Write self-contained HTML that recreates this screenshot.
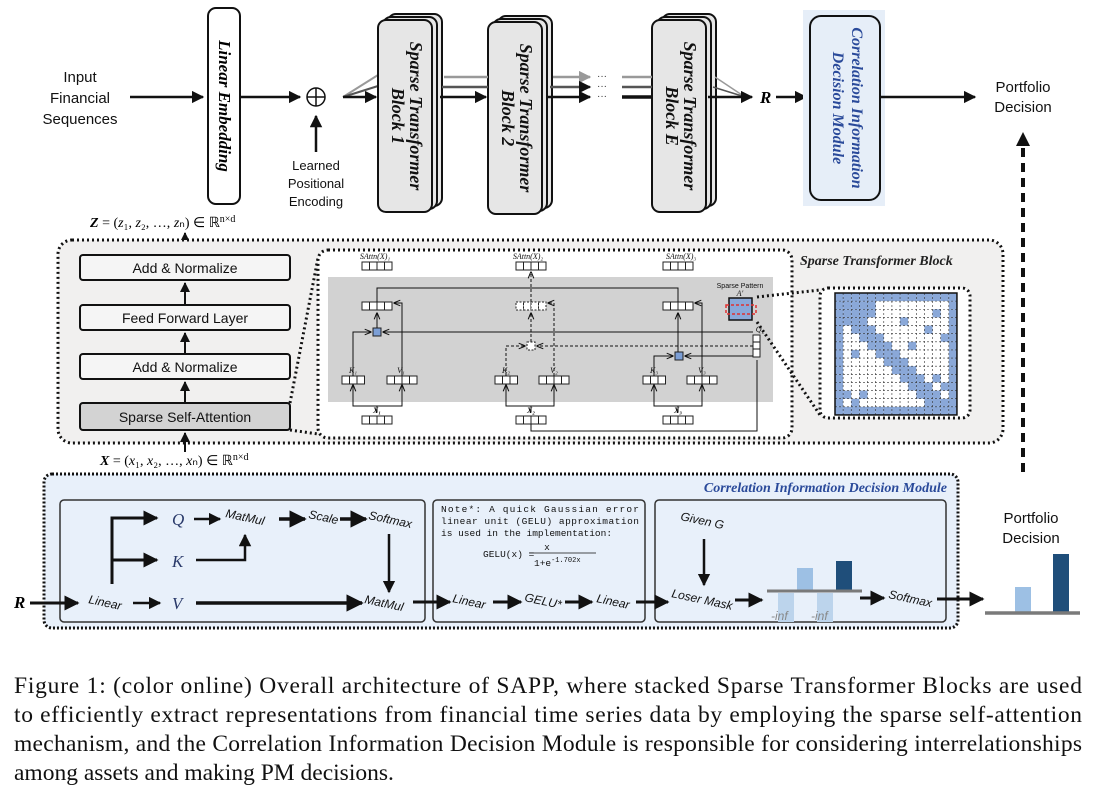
<!DOCTYPE html>
<html><head><meta charset="utf-8"><style>
html,body{margin:0;padding:0;background:#fff}
svg{display:block}
.s{font-family:"Liberation Sans",sans-serif}
.r{font-family:"Liberation Serif",serif}
.m{font-family:"Liberation Mono",monospace}
</style></head><body>
<svg id="sv" width="1095" height="791" viewBox="0 0 1095 791" xmlns="http://www.w3.org/2000/svg">
<defs>
<marker id="a" viewBox="0 0 10 10" refX="9" refY="5" markerWidth="5" markerHeight="5" orient="auto"><path d="M0,0L10,5L0,10z" fill="#111"/></marker>
<marker id="as" viewBox="0 0 10 10" refX="9" refY="5" markerWidth="7" markerHeight="7" orient="auto"><path d="M0,1L10,5L0,9" fill="none" stroke="#111" stroke-width="1.5"/></marker>
<marker id="ag" viewBox="0 0 10 10" refX="9" refY="5" markerWidth="5" markerHeight="5" orient="auto"><path d="M0,0L10,5L0,10z" fill="#999"/></marker>
</defs>

<g class="s" font-size="15" text-anchor="middle" fill="#111">
<text x="80" y="82">Input</text><text x="80" y="103">Financial</text><text x="80" y="124">Sequences</text>
</g>
<line x1="130" y1="97" x2="203" y2="97" stroke="#111" stroke-width="2.5" marker-end="url(#a)"/>
<rect x="208" y="8" width="32" height="196" rx="8" fill="#fff" stroke="#111" stroke-width="2"/>
<text class="r" font-size="17" font-style="italic" font-weight="bold" transform="translate(219,106) rotate(90)" text-anchor="middle">Linear Embedding</text>
<line x1="240" y1="97" x2="300" y2="97" stroke="#111" stroke-width="2.5" marker-end="url(#a)"/>
<circle cx="316" cy="97" r="9" fill="none" stroke="#111" stroke-width="1.5"/>
<line x1="307" y1="97" x2="325" y2="97" stroke="#111" stroke-width="1.5"/><line x1="316" y1="88" x2="316" y2="106" stroke="#111" stroke-width="1.5"/>
<line x1="316" y1="152" x2="316" y2="116" stroke="#111" stroke-width="2.5" marker-end="url(#a)"/>
<g class="s" font-size="13" text-anchor="middle" fill="#111"><text x="316" y="170">Learned</text><text x="316" y="188">Positional</text><text x="316" y="206">Encoding</text></g>

<line x1="343" y1="97" x2="378" y2="75" stroke="#999" stroke-width="2"/>
<line x1="343" y1="97" x2="378" y2="86" stroke="#555" stroke-width="2"/>
<line x1="343" y1="97" x2="376" y2="97" stroke="#111" stroke-width="2.5" marker-end="url(#a)"/>

<g id="blocks" stroke="#111" stroke-width="2" fill="#e6e6e6"></g>

<line x1="444" y1="77" x2="488" y2="77" stroke="#999" stroke-width="2.5"/>
<line x1="442" y1="87" x2="488" y2="87" stroke="#555" stroke-width="2.5"/>
<line x1="440" y1="97" x2="486" y2="97" stroke="#111" stroke-width="2.5" marker-end="url(#a)"/>
<line x1="553" y1="77" x2="590" y2="77" stroke="#999" stroke-width="2.5" marker-end="url(#ag)"/>
<line x1="550" y1="87" x2="590" y2="87" stroke="#555" stroke-width="2.5" marker-end="url(#a)"/>
<line x1="548" y1="97" x2="590" y2="97" stroke="#111" stroke-width="2.5" marker-end="url(#a)"/>
<g font-size="10" fill="#333" class="s"><text x="597" y="79">···</text><text x="597" y="89">···</text><text x="597" y="99">···</text></g>
<line x1="622" y1="77" x2="652" y2="77" stroke="#999" stroke-width="2.5"/>
<line x1="622" y1="87" x2="652" y2="87" stroke="#555" stroke-width="2.5"/>
<line x1="622" y1="97" x2="652" y2="97" stroke="#111" stroke-width="3.5"/>
<line x1="715" y1="77" x2="742" y2="95" stroke="#999" stroke-width="1.5"/>
<line x1="713" y1="87" x2="742" y2="96" stroke="#555" stroke-width="1.5"/>
<line x1="708" y1="97" x2="752" y2="97" stroke="#111" stroke-width="2.5" marker-end="url(#a)"/>
<text class="r" x="760" y="103" font-size="17" font-style="italic" font-weight="bold">R</text>
<line x1="776" y1="97" x2="806" y2="97" stroke="#111" stroke-width="2.5" marker-end="url(#a)"/>
<rect x="803" y="10" width="82" height="196" fill="#e6eef8"/>
<rect x="810" y="16" width="70" height="184" rx="11" fill="#e6eef8" stroke="#111" stroke-width="2"/>
<g class="r" font-size="16" font-style="italic" font-weight="bold" fill="#2a4a9a" text-anchor="middle">
<text transform="translate(852,108) rotate(90)">Correlation Information</text>
<text transform="translate(833,108) rotate(90)">Decision Module</text></g>
<line x1="880" y1="97" x2="975" y2="97" stroke="#111" stroke-width="2.5" marker-end="url(#a)"/>
<g class="s" font-size="15" text-anchor="middle" fill="#111"><text x="1023" y="92">Portfolio</text><text x="1023" y="112">Decision</text></g>
<line x1="1023" y1="472" x2="1023" y2="140" stroke="#111" stroke-width="4" stroke-dasharray="9,6"/>
<path d="M1016,146L1023,132L1030,146z" fill="#111"/>

<text class="r" x="90" y="227" font-size="14"><tspan font-weight="bold" font-style="italic">Z</tspan> = (<tspan font-style="italic">z</tspan>₁, <tspan font-style="italic">z</tspan>₂, …, <tspan font-style="italic">z</tspan>ₙ) ∈ ℝ<tspan font-size="10" dy="-5">n×d</tspan></text>
<line x1="185" y1="255" x2="185" y2="233" stroke="#111" stroke-width="2" marker-end="url(#a)"/>
<rect x="58" y="240" width="945" height="203" rx="14" fill="#f1f0ef" stroke="#111" stroke-width="3" stroke-dasharray="2,3"/>
<g stroke="#111" stroke-width="2">
<rect x="80" y="255" width="210" height="25" rx="3" fill="#f5f5f5"/><rect x="80" y="305" width="210" height="25" rx="3" fill="#f5f5f5"/>
<rect x="80" y="354" width="210" height="25" rx="3" fill="#f5f5f5"/><rect x="80" y="403" width="210" height="27" rx="3" fill="#d3d3d3"/>
</g>
<g class="s" font-size="14" fill="#111" text-anchor="middle">
<text x="185" y="273">Add &amp; Normalize</text><text x="185" y="323">Feed Forward Layer</text><text x="185" y="372">Add &amp; Normalize</text><text x="185" y="422">Sparse Self-Attention</text></g>
<g stroke="#111" stroke-width="2"><line x1="185" y1="305" x2="185" y2="283" marker-end="url(#a)"/><line x1="185" y1="354" x2="185" y2="333" marker-end="url(#a)"/><line x1="185" y1="403" x2="185" y2="382" marker-end="url(#a)"/><line x1="185" y1="452" x2="185" y2="433" marker-end="url(#a)"/></g>
<line x1="290" y1="430" x2="318" y2="434" stroke="#111" stroke-width="3" stroke-dasharray="2,3"/>
<line x1="290" y1="403" x2="318" y2="258" stroke="#111" stroke-width="3" stroke-dasharray="2,3"/>
<text class="r" x="100" y="465" font-size="14"><tspan font-weight="bold" font-style="italic">X</tspan> = (<tspan font-style="italic">x</tspan>₁, <tspan font-style="italic">x</tspan>₂, …, <tspan font-style="italic">x</tspan>ₙ) ∈ ℝ<tspan font-size="10" dy="-5">n×d</tspan></text>

<rect x="318" y="250" width="474" height="188" rx="10" fill="#fff" stroke="#111" stroke-width="3" stroke-dasharray="2,3"/>
<rect x="328" y="277" width="445" height="125" fill="#d2d2d2"/>
<text class="r" x="800" y="265" font-size="14" font-style="italic" font-weight="bold" fill="#222">Sparse Transformer Block</text>
<line x1="757" y1="297" x2="820" y2="290" stroke="#111" stroke-width="3" stroke-dasharray="2,3"/>
<line x1="757" y1="322" x2="820" y2="415" stroke="#111" stroke-width="3" stroke-dasharray="2,3"/>
<rect x="820" y="288" width="150" height="130" rx="8" fill="#fff" stroke="#111" stroke-width="3" stroke-dasharray="2,3"/>
<g id="grid"></g>

<g id="mini" stroke="#111" stroke-width="1" fill="none"></g>
<g class="r" font-size="8" fill="#111" text-anchor="middle" font-style="italic">
<text x="375" y="259">SAttn(X)₁</text><text x="528" y="259">SAttn(X)₂</text><text x="681" y="259">SAttn(X)₃</text>
<text x="353" y="373">K₁</text><text x="401" y="373">V₁</text><text x="506" y="373">K₂</text><text x="554" y="373">V₂</text><text x="654" y="373">K₃</text><text x="702" y="373">V₃</text>
<text x="377" y="413" font-weight="bold">X₁</text><text x="531" y="413" font-weight="bold">X₂</text><text x="678" y="413" font-weight="bold">X₃</text>
<text x="760" y="332">Q₂</text><text x="740" y="296">A′</text></g>
<text class="s" x="740" y="288" font-size="7" text-anchor="middle" fill="#111">Sparse Pattern</text>

<rect x="44" y="474" width="914" height="154" rx="8" fill="#e8f0fa" stroke="#111" stroke-width="3" stroke-dasharray="2,2"/>
<text class="r" x="947" y="492" font-size="14" font-style="italic" font-weight="bold" fill="#2a4a9a" text-anchor="end">Correlation Information Decision Module</text>
<g fill="none" stroke="#333" stroke-width="1.5"><rect x="60" y="500" width="365" height="122" rx="4"/><rect x="433" y="500" width="212" height="122" rx="4"/><rect x="655" y="500" width="291" height="122" rx="4"/></g>
<text class="r" x="14" y="608" font-size="17" font-style="italic" font-weight="bold">R</text>
<g stroke="#111" stroke-width="3" fill="none">
<line x1="30" y1="603" x2="78" y2="603" marker-end="url(#a)"/>
<path d="M112,584V518H157" marker-end="url(#a)"/>
<line x1="112" y1="560" x2="157" y2="560" marker-end="url(#a)"/>
<line x1="194" y1="519" x2="220" y2="519" stroke-width="2.5" marker-end="url(#a)"/>
<path d="M196,560H245V535" stroke-width="2.5" marker-end="url(#a)"/>
<line x1="279" y1="519" x2="305" y2="519" stroke-width="3.5" marker-end="url(#a)"/>
<line x1="340" y1="519" x2="366" y2="519" stroke-width="3.5" marker-end="url(#a)"/>
<line x1="389" y1="534" x2="389" y2="592" stroke-width="2.5" marker-end="url(#a)"/>
<line x1="133" y1="603" x2="160" y2="603" stroke-width="2.5" marker-end="url(#a)"/>
<line x1="196" y1="603" x2="362" y2="603" stroke-width="3.5" marker-end="url(#a)"/>
<line x1="413" y1="602" x2="450" y2="602" stroke-width="3" marker-end="url(#a)"/>
<line x1="493" y1="602" x2="521" y2="602" stroke-width="3" marker-end="url(#a)"/>
<line x1="565" y1="602" x2="592" y2="602" stroke-width="3" marker-end="url(#a)"/>
<line x1="636" y1="602" x2="668" y2="602" stroke-width="3" marker-end="url(#a)"/>
<line x1="704" y1="539" x2="704" y2="585" stroke-width="2.5" marker-end="url(#a)"/>
<line x1="735" y1="600" x2="762" y2="600" stroke-width="3" marker-end="url(#a)"/>
<line x1="860" y1="598" x2="884" y2="598" stroke-width="3" marker-end="url(#a)"/>
<line x1="937" y1="599" x2="983" y2="599" stroke-width="3" marker-end="url(#a)"/>
</g>
<g class="r" font-size="17" font-style="italic" fill="#2a3a6a">
<text x="172" y="525">Q</text><text x="172" y="567">K</text><text x="172" y="609">V</text>
</g>
<g class="s" font-size="12" font-style="italic" fill="#111">
<text transform="translate(88,603) rotate(12)">Linear</text>
<text transform="translate(225,517) rotate(12)">MatMul</text>
<text transform="translate(308,518) rotate(12)">Scale</text>
<text transform="translate(368,519) rotate(12)">Softmax</text>
<text transform="translate(364,603) rotate(12)">MatMul</text>
<text transform="translate(452,602) rotate(12)">Linear</text>
<text transform="translate(524,601) rotate(12)">GELU*</text>
<text transform="translate(596,602) rotate(12)">Linear</text>
<text transform="translate(680,520) rotate(12)">Given G</text>
<text transform="translate(671,597) rotate(12)">Loser Mask</text>
<text transform="translate(888,598) rotate(12)">Softmax</text>
</g>
<g class="m" font-size="9.5" fill="#111">
<text x="441" y="512" textLength="198" lengthAdjust="spacing">Note*: A quick Gaussian error</text>
<text x="441" y="524" textLength="198" lengthAdjust="spacing">linear unit (GELU) approximation</text>
<text x="441" y="536">is used in the implementation:</text>
<text x="483" y="557">GELU(x) =</text>
<text x="547" y="550" text-anchor="middle">x</text>
<text x="534" y="566">1+e<tspan font-size="7" dy="-4">-1.702x</tspan></text>
</g>
<line x1="529" y1="553" x2="596" y2="553" stroke="#111" stroke-width="0.8"/>
<rect x="778" y="593" width="16" height="29" fill="#bcd4ec"/><rect x="817" y="593" width="16" height="29" fill="#bcd4ec"/>
<rect x="797" y="568" width="16" height="22" fill="#9dc0e4"/><rect x="836" y="561" width="16" height="29" fill="#1f4e7a"/>
<line x1="767" y1="591" x2="862" y2="591" stroke="#7a7a7a" stroke-width="3"/>
<g class="s" font-size="12" font-style="italic" fill="#888"><text x="771" y="620">-inf</text><text x="811" y="620">-inf</text></g>
<g class="s" font-size="15" text-anchor="middle" fill="#111"><text x="1031" y="523">Portfolio</text><text x="1031" y="543">Decision</text></g>
<rect x="1015" y="587" width="16" height="26" fill="#9dc0e4"/><rect x="1053" y="554" width="16" height="59" fill="#1f4e7a"/>
<line x1="985" y1="613" x2="1080" y2="613" stroke="#7a7a7a" stroke-width="3.5"/>

<g class="r" font-size="23.5" fill="#111">
<text x="14" y="693" textLength="1068" lengthAdjust="spacing">Figure 1: (color online) Overall architecture of SAPP, where stacked Sparse Transformer Blocks are used</text>
<text x="14" y="722" textLength="1068" lengthAdjust="spacing">to efficiently extract representations from financial time series data by employing the sparse self-attention</text>
<text x="14" y="751" textLength="1068" lengthAdjust="spacing">mechanism, and the Correlation Information Decision Module is responsible for considering interrelationships</text>
<text x="14" y="780">among assets and making PM decisions.</text>
</g>
</svg>
<script>
var NS="http://www.w3.org/2000/svg";
function el(p,t,a){var e=document.createElementNS(NS,t);for(var k in a)e.setAttribute(k,a[k]);p.appendChild(e);return e;}
var b=document.getElementById('blocks'),sv=document.getElementById('sv');
[[378,20,"Sparse Transformer","Block 1"],[488,22,"Sparse Transformer","Block 2"],[652,20,"Sparse Transformer","Block E"]].forEach(function(d){
 for(var i=2;i>=0;i--) el(b,'rect',{x:d[0]+i*5,y:d[1]-i*3,width:54,height:192,rx:8});
 var t=el(sv,'text',{class:'r','font-size':18,'font-style':'italic','font-weight':'bold','text-anchor':'middle',fill:'#111',transform:'translate('+(d[0]+32)+','+(d[1]+96)+') rotate(90)'});t.textContent=d[2];
 var t2=el(sv,'text',{class:'r','font-size':18,'font-style':'italic','font-weight':'bold','text-anchor':'middle',fill:'#111',transform:'translate('+(d[0]+14)+','+(d[1]+96)+') rotate(90)'});t2.textContent=d[3];
});
var g=document.getElementById('grid'),x0=835,y0=293,c=8.13,n=15;
el(g,'rect',{x:x0,y:y0,width:c*n,height:c*n,fill:'#fff'});
var extra={"2,12":1,"3,8":1,"4,11":1,"6,9":1,"7,2":1,"10,12":1,"12,1":1,"12,3":1,"13,2":1,"11,13":1,"5,13":1,"3,3":1,"4,4":1,"5,4":1,"8,7":1};
for(var i=0;i<n;i++)for(var j=0;j<n;j++){
 var blue=(i==0||j==0||i==n-1||j==n-1||(i<=2&&j<=4)||Math.abs(i-j-1)<=1||extra[i+","+j]);
 if(blue) el(g,'rect',{x:x0+j*c,y:y0+i*c,width:c,height:c,fill:'#8aa8d8'});
}
for(var k=1;k<n;k++){el(g,'line',{x1:x0+k*c,y1:y0,x2:x0+k*c,y2:y0+n*c,stroke:'#333','stroke-width':0.6,'stroke-dasharray':'2,2'});el(g,'line',{x1:x0,y1:y0+k*c,x2:x0+n*c,y2:y0+k*c,stroke:'#333','stroke-width':0.6,'stroke-dasharray':'2,2'});}
el(g,'rect',{x:x0,y:y0,width:c*n,height:c*n,fill:'none',stroke:'#111','stroke-width':1.5});
var m=document.getElementById('mini');
function row(x,y,k,dash){for(var i=0;i<k;i++)el(m,'rect',{x:x+i*7.5,y:y,width:7.5,height:8,fill:'#fff',stroke:'#222','stroke-width':1,'stroke-dasharray':dash?'2,1.5':'none'});}
[362,516,663].forEach(function(x,i){row(x,262,4);row(x,416,4);row(x,302,4,i==1);});
row(342,376,3);row(387,376,4);row(495,376,3);row(539,376,4);row(643,376,3);row(687,376,4);
el(m,'rect',{x:753,y:335,width:7,height:22,fill:'#fff',stroke:'#222'});
el(m,'line',{x1:753,y1:342,x2:760,y2:342});el(m,'line',{x1:753,y1:349,x2:760,y2:349});
el(m,'rect',{x:729,y:298,width:23,height:22,fill:'#8aa8d8',stroke:'#111','stroke-width':1.5});
el(m,'rect',{x:726,y:305,width:30,height:9,fill:'none',stroke:'#e03030','stroke-width':1.5,'stroke-dasharray':'3,2'});
el(m,'rect',{x:373,y:328,width:8,height:8,fill:'#7c9fd6',stroke:'#222'});
el(m,'rect',{x:527,y:342,width:8,height:8,fill:'#fff',stroke:'#222','stroke-dasharray':'2,1.5'});
el(m,'rect',{x:675,y:352,width:8,height:8,fill:'#7c9fd6',stroke:'#222'});
function L(d,dash){el(m,'path',{d:d,stroke:'#111','stroke-width':1,fill:'none','stroke-dasharray':dash?'3,2':'none','marker-end':'url(#as)'});}
function P(d,dash){el(m,'path',{d:d,stroke:'#111','stroke-width':1,fill:'none','stroke-dasharray':dash?'3,2':'none'});}
[[377,353,402],[531,506,554],[678,654,702]].forEach(function(a){
 L('M'+a[0]+',406H'+a[1]+'V385');L('M'+a[0]+',406H'+a[2]+'V385');P('M'+a[0]+',406V412');
});
P('M531,424V431H757V360');
L('M753,332H383');L('M753,346H537',true);L('M753,356H685');
L('M353,376V332H371');L('M506,376V346H525',true);L('M654,376V356H673');
L('M377,328V313');L('M531,342V313',true);L('M678,352V313');
L('M402,376V303H394');L('M554,376V303H548',true);L('M702,376V303H695');
P('M377,302V288H678V302');L('M531,302V272',true);
</script>
</body></html>
